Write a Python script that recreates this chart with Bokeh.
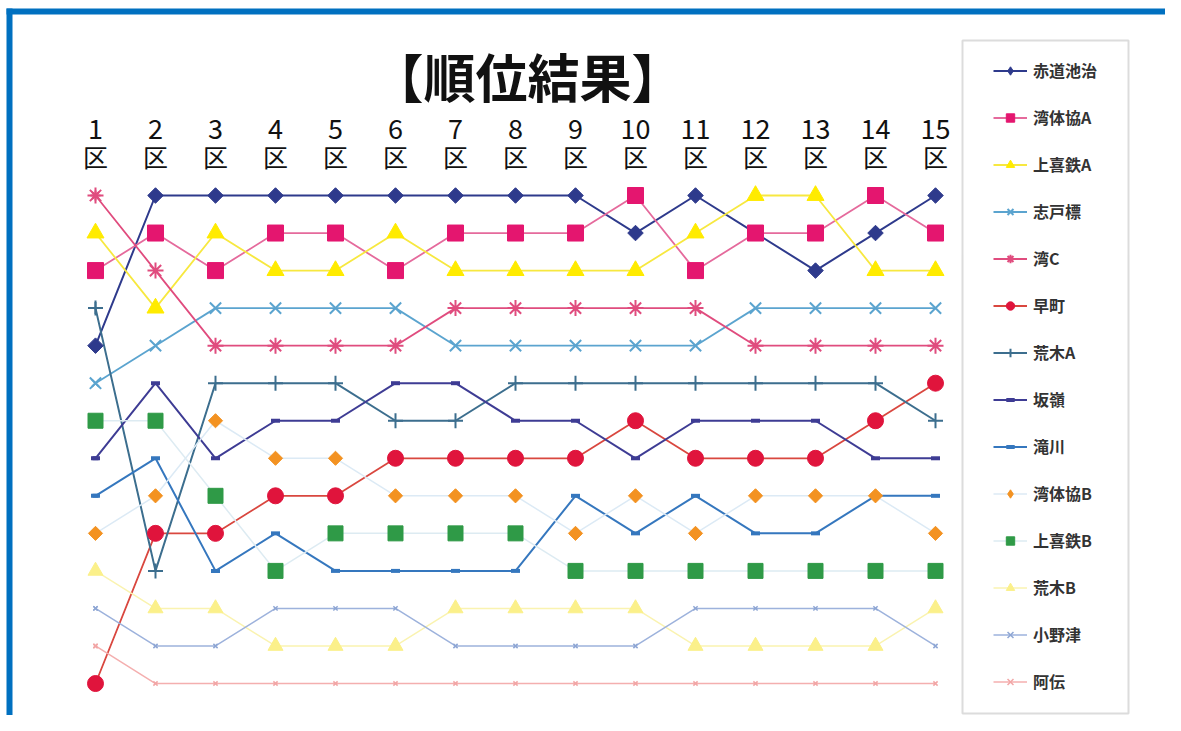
import math
from bokeh.plotting import figure
from bokeh.models import Range1d, Legend, LegendItem, Label, CDSView, IndexFilter
from bokeh.core.properties import value
from bokeh.embed import file_html
from bokeh.resources import INLINE

# ---------------- data ----------------
legs = list(range(1, 16))
leg_numbers = [str(i) for i in legs]
leg_unit = ["区"] * 15
title_text = "【順位結果】"

teams = ["赤道池治", "湾体協A", "上喜鉄A", "志戸標", "湾C", "早町", "荒木A",
         "坂嶺", "滝川", "湾体協B", "上喜鉄B", "荒木B", "小野津", "阿伝"]

rank_akamichi = [5, 1, 1, 1, 1, 1, 1, 1, 1, 2, 1, 2, 3, 2, 1]
rank_wantaikyo_a = [3, 2, 3, 2, 2, 3, 2, 2, 2, 1, 3, 2, 2, 1, 2]
rank_kamikitetsu_a = [2, 4, 2, 3, 3, 2, 3, 3, 3, 3, 2, 1, 1, 3, 3]
rank_shitooke = [6, 5, 4, 4, 4, 4, 5, 5, 5, 5, 5, 4, 4, 4, 4]
rank_wan_c = [1, 3, 5, 5, 5, 5, 4, 4, 4, 4, 4, 5, 5, 5, 5]
rank_soumachi = [14, 10, 10, 9, 9, 8, 8, 8, 8, 7, 8, 8, 8, 7, 6]
rank_araki_a = [4, 11, 6, 6, 6, 7, 7, 6, 6, 6, 6, 6, 6, 6, 7]
rank_sakamine = [8, 6, 8, 7, 7, 6, 6, 7, 7, 8, 7, 7, 7, 8, 8]
rank_takigawa = [9, 8, 11, 10, 11, 11, 11, 11, 9, 10, 9, 10, 10, 9, 9]
rank_wantaikyo_b = [10, 9, 7, 8, 8, 9, 9, 9, 10, 9, 10, 9, 9, 9, 10]
rank_kamikitetsu_b = [7, 7, 9, 11, 10, 10, 10, 10, 11, 11, 11, 11, 11, 11, 11]
rank_araki_b = [11, 12, 12, 13, 13, 13, 12, 12, 12, 12, 13, 13, 13, 13, 12]
rank_onotsu = [12, 13, 13, 12, 12, 12, 13, 13, 13, 13, 12, 12, 12, 12, 13]
rank_aden = [13, 14, 14, 14, 14, 14, 14, 14, 14, 14, 14, 14, 14, 14, 14]

ranks = [rank_akamichi, rank_wantaikyo_a, rank_kamikitetsu_a, rank_shitooke,
         rank_wan_c, rank_soumachi, rank_araki_a, rank_sakamine, rank_takigawa,
         rank_wantaikyo_b, rank_kamikitetsu_b, rank_araki_b, rank_onotsu, rank_aden]

# ---------------- styles ----------------
D = math.pi / 4
# (line colour, line width, marker, marker colour, size, marker line width, angle, legend marker, legend size)
styles = [
    ("#2E3A8C", 2.0, "square", "#2E3A8C", 11, 1, D, "diamond", 13),
    ("#E56A9C", 1.8, "square", "#E4166F", 16, 1, 0, "square", 10),
    ("#F7E840", 1.8, "triangle", "#FFEB00", 17, 1, 0, "triangle", 11),
    ("#5BA4CF", 1.8, "x", "#5BA4CF", 16, 2, 0, "x", 10),
    ("#E04C7E", 1.8, "asterisk", "#E04C7E", 16, 2, 0, "asterisk", 10),
    ("#D9473F", 1.8, "circle", "#E0143C", 16, 1, 0, "circle", 11),
    ("#3C6E8E", 2.0, "cross", "#3C6E8E", 15, 2, 0, "cross", 12),
    ("#3E3C94", 2.0, "dash", "#3E3C94", 9, 4, 0, "dash", 6),
    ("#3577BE", 2.0, "dash", "#3577BE", 9, 4, 0, "dash", 6),
    ("#DCEAF5", 1.5, "square", "#F39221", 10, 1, D, "diamond", 12),
    ("#DDEBF2", 1.5, "square", "#2F9A47", 15, 1, 0, "square", 10),
    ("#FAF3B0", 1.5, "triangle", "#FBF08A", 15, 1, 0, "triangle", 10),
    ("#9DB2DC", 1.5, "x", "#8EA6D4", 6, 1.5, 0, "x", 6),
    ("#F4AFAF", 1.5, "x", "#F2A6A6", 6, 1.5, 0, "x", 6),
]

W, H = 1165, 715
PXL = 60.0                    # pixels per leg
PXR = 37.54                   # pixels per rank
X0 = 95.0                     # pixel x of leg 1
Y0 = 195.0                    # pixel y of rank 1

x_start = 1 - X0 / PXL
y_top = 1 - Y0 / PXR


def ydat(py):
    return y_top + py / PXR


def xdat(px):
    return x_start + px / PXL


p = figure(width=W, height=H, output_backend="svg", toolbar_location=None,
           x_axis_type=None, y_axis_type=None,
           x_range=Range1d(x_start, x_start + W / PXL),
           y_range=Range1d(y_top + H / PXR, y_top),
           min_border=0, background_fill_color="white", border_fill_color="white")
p.grid.visible = False
p.outline_line_color = None

# blue frame (top and left edges)
p.segment(x0=[xdat(6), xdat(9)], y0=[ydat(11), ydat(8)],
          x1=[xdat(1200), xdat(9)], y1=[ydat(11), ydat(740)],
          line_color="#0070C0", line_width=6)

# legend box
p.rect(x=[xdat((962 + 1128) / 2)], y=[ydat((40 + 713) / 2)],
       width=[(1128 - 962) / PXL], height=[(713 - 40) / PXR],
       fill_color="white", line_color="#DCDCDC", line_width=2)

line_rs = []
for r, st in zip(ranks, styles):
    lr = p.line(legs, r, line_color=st[0], line_width=st[1])
    line_rs.append(lr)

# legend-glyph renderers: only the first point, drawn underneath the
# (larger) real marker so it stays hidden in the plot
legend_marker_rs = []
for r, st in zip(ranks, styles):
    gr = p.scatter(legs, r, marker=st[7], size=st[8],
                   fill_color=st[3], line_color=st[3], line_width=st[5],
                   view=CDSView(filter=IndexFilter(indices=[0])))
    legend_marker_rs.append(gr)

marker_rs = []
for r, st in zip(ranks, styles):
    mr = p.scatter(legs, r, marker=st[2], size=st[4], angle=st[6],
                   fill_color=st[3], line_color=st[3], line_width=st[5])
    marker_rs.append(mr)

items = [LegendItem(label=t, renderers=[lr, gr], index=0)
         for t, lr, gr in zip(teams, line_rs, legend_marker_rs)]
legend = Legend(items=items, location=(993, 22),
                border_line_color=None, background_fill_alpha=0.0,
                padding=0, spacing=23, margin=0,
                glyph_height=21, glyph_width=34, label_height=21,
                label_standoff=6,
                label_text_font="Noto Sans CJK JP", label_text_font_style="bold",
                label_text_font_size="16px", label_text_color="#333333")
p.add_layout(legend)

# leg labels
p.text(legs, [ydat(128)] * 15, text=leg_numbers, text_align="center",
       text_baseline="middle", text_font=value("Noto Sans CJK JP"),
       text_font_size="27px", text_color="#111111")
p.text(legs, [ydat(155)] * 15, text=leg_unit, text_align="center",
       text_baseline="middle", text_font=value("Noto Sans CJK JP"),
       text_font_size="25px", text_color="#111111")

title = Label(x=xdat(527), y=ydat(75), text=title_text, text_align="center",
              text_baseline="middle", text_font="Noto Sans CJK JP",
              text_font_style="bold", text_font_size="52px", text_color="#111111")
p.add_layout(title)

open("out.html", "w").write(file_html(p, INLINE))
